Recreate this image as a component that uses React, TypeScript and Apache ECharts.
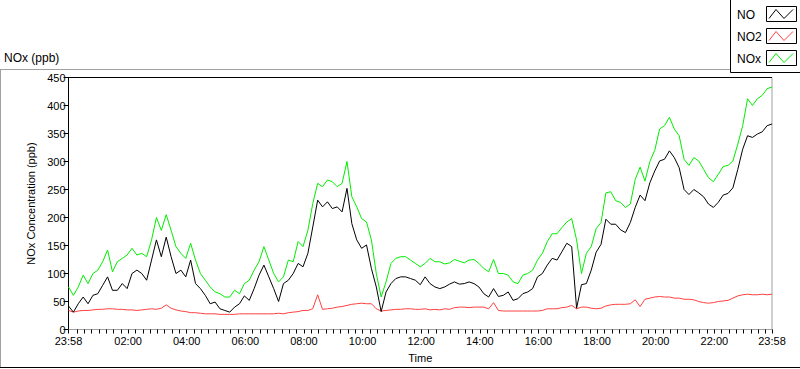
import React, { useEffect, useRef } from "react";
import * as echarts from "echarts";

// time in minutes from 00:00, first sample at 23:58 of the previous day
const START_MIN = -2;
const STEP_MIN = 10;

const NO = [
  42, 31, 46, 58, 46, 61, 64, 79, 94, 70, 70, 82, 73, 100, 106, 100, 88, 124, 160, 130, 165, 130, 100, 106, 94, 124, 82, 73, 61, 46, 49, 37, 34, 31, 40, 46, 60,
  52, 73, 97, 115, 94, 73, 50, 82, 88, 100, 118, 112, 136, 183, 231, 219, 228, 216, 219, 210, 252, 189, 160, 145, 151, 109, 76, 32, 67, 82, 91, 94, 94, 91, 88, 80,
  94, 82, 76, 73, 76, 81, 85, 81, 82, 85, 82, 76, 64, 58, 73, 59, 61, 67, 52, 55, 64, 67, 73, 94, 100, 115, 127, 124, 139, 154, 148, 38, 80, 82, 106, 138,
  152, 197, 188, 188, 178, 173, 191, 218, 240, 230, 262, 283, 301, 304, 319, 307, 289, 250, 241, 250, 244, 237, 224, 218, 227, 240, 243, 253, 286, 322, 346, 343, 349, 353, 364, 367,
];

const NO2 = [
  34, 31, 33, 34, 34, 35, 36, 36, 37, 37, 36, 36, 35, 35, 34, 35, 36, 37, 36, 38, 44, 38, 35, 33, 32, 30, 30, 29, 28, 28, 28, 27, 27, 27, 27, 28, 28,
  28, 28, 28, 28, 28, 28, 29, 28, 30, 31, 32, 34, 34, 37, 62, 36, 37, 38, 40, 41, 43, 45, 46, 47, 46, 46, 37, 33, 34, 35, 36, 36, 37, 37, 36, 36,
  37, 35, 36, 35, 37, 36, 39, 40, 40, 39, 40, 40, 40, 37, 48, 34, 33, 33, 33, 33, 33, 33, 33, 33, 34, 37, 37, 37, 39, 40, 43, 37, 40, 40, 38, 37,
  38, 42, 44, 45, 45, 45, 46, 53, 41, 54, 56, 58, 59, 58, 58, 56, 56, 54, 54, 53, 50, 48, 47, 48, 50, 51, 52, 56, 60, 62, 63, 62, 62, 63, 62, 63,
];

const NOX = [
  76, 61, 76, 97, 82, 100, 106, 121, 142, 103, 121, 127, 133, 145, 133, 136, 130, 160, 200, 177, 205, 177, 148, 136, 127, 154, 124, 100, 88, 76, 67, 64, 58, 58, 70, 64, 82,
  88, 106, 121, 148, 124, 100, 85, 94, 124, 121, 157, 148, 177, 225, 261, 255, 267, 264, 255, 261, 300, 237, 219, 198, 192, 160, 100, 58, 85, 118, 127, 130, 130, 124, 118, 112,
  118, 127, 121, 121, 117, 119, 125, 122, 119, 124, 125, 118, 109, 103, 125, 100, 100, 97, 85, 82, 97, 100, 106, 124, 136, 157, 171, 171, 182, 192, 198, 160, 100, 136, 148, 180,
  191, 244, 246, 230, 227, 218, 224, 268, 290, 265, 300, 320, 358, 364, 379, 358, 346, 304, 293, 307, 301, 286, 271, 264, 277, 291, 293, 301, 331, 364, 412, 400, 412, 418, 430, 433,
];

const SERIES_NAMES = ["NO", "NO2", "NOx"];
const SERIES_COLORS = ["#000000", "#ff4040", "#00ee00"];

const X_MIN = -2;
const X_MAX = 1438;
const X_MAJOR = [-2, 120, 240, 360, 480, 600, 720, 840, 960, 1080, 1200, 1320, 1438];
const X_MINOR_STEP = 15;
const Y_MIN = 0;
const Y_MAX = 450;
const Y_STEP = 50;

const FONT = "Liberation Sans, Arial, sans-serif";

const GRID_LEFT = 68.5;
const GRID_RIGHT = 28;
const GRID_TOP = 77.5;
const GRID_BOTTOM = 39.5;
const CHART_W = 800;
const CHART_H = 369;

function fmtTime(v: number): string {
  if (v < 0) v += 1440;
  const m = Math.round(v) % 1440;
  const h = Math.floor(m / 60);
  const mm = m % 60;
  return String(h).padStart(2, "0") + ":" + String(mm).padStart(2, "0");
}

export default function App() {
  const ref = useRef<HTMLDivElement>(null);
  useEffect(() => {
    if (!ref.current) return;
    const chart = echarts.init(ref.current, undefined, { renderer: "svg" });
    const allTicks: number[] = X_MAJOR.slice();
    for (let m = 0; m < X_MAX; m += X_MINOR_STEP) {
      if (m % 120 !== 0) allTicks.push(m);
    }
    allTicks.sort((a, b) => a - b);
    const majorSet = new Set(X_MAJOR);
    const toPairs = (arr: number[]) => arr.map((v, i) => [START_MIN + i * STEP_MIN, v]);
    const data = [NO, NO2, NOX];

    const legendItems: any[] = [];
    SERIES_NAMES.forEach((name, k) => {
      const y0 = 6.5 + k * 22;
      legendItems.push({
        type: "text",
        x: 737,
        y: y0 + 8,
        style: { text: name, fill: "#000", fontSize: 12, fontFamily: FONT, verticalAlign: "middle" },
      });
      legendItems.push({
        type: "rect",
        shape: { x: 766.5, y: y0, width: 30, height: 15 },
        style: { fill: "#fff", stroke: "#000", lineWidth: 1 },
      });
      legendItems.push({
        type: "polyline",
        shape: {
          points: [
            [769, y0 + 12],
            [776, y0 + 3],
            [784, y0 + 12],
            [793, y0 + 3],
          ],
        },
        style: { stroke: SERIES_COLORS[k], lineWidth: 1, fill: "none" },
      });
    });

    chart.setOption({
      animation: false,
      backgroundColor: "#ffffff",
      grid: {
        left: GRID_LEFT,
        right: GRID_RIGHT,
        top: GRID_TOP,
        bottom: GRID_BOTTOM,
        show: true,
        borderColor: "#a0a0a0",
        borderWidth: 1,
        backgroundColor: "#ffffff",
        containLabel: false,
      },
      xAxis: {
        type: "value",
        min: X_MIN,
        max: X_MAX,
        position: "bottom",
        name: "Time",
        nameLocation: "middle",
        nameGap: 23,
        nameTextStyle: { color: "#000", fontSize: 11, fontFamily: FONT },
        axisLine: { show: true, onZero: false, lineStyle: { color: "#a0a0a0", width: 1 } },
        axisTick: { show: true, customValues: allTicks, length: 4, lineStyle: { color: "#000" } },
        axisLabel: {
          show: true,
          customValues: allTicks,
          hideOverlap: false,
          interval: 0,
          formatter: (v: number) => (majorSet.has(v) ? fmtTime(v) : ""),
          color: "#000",
          fontSize: 11,
          fontFamily: FONT,
          margin: 6,
        },
        splitLine: { show: false },
      },
      yAxis: {
        type: "value",
        min: Y_MIN,
        max: Y_MAX,
        interval: Y_STEP,
        position: "left",
        name: "NOx Concentration (ppb)",
        nameLocation: "middle",
        nameGap: 30,
        nameTextStyle: { color: "#000", fontSize: 11, fontFamily: FONT },
        axisLine: { show: true, onZero: false, lineStyle: { color: "#000", width: 1 } },
        axisTick: { show: true, length: 5, lineStyle: { color: "#000" } },
        axisLabel: { color: "#000", fontSize: 11, fontFamily: FONT, margin: 3 },
        splitLine: { show: false },
      },
      series: data.map((arr, k) => ({
        name: SERIES_NAMES[k],
        type: "line",
        data: toPairs(arr),
        showSymbol: false,
        symbol: "none",
        lineStyle: { color: SERIES_COLORS[k], width: 1 },
        itemStyle: { color: SERIES_COLORS[k] },
        z: k === 0 ? 4 : 3,
      })),
      graphic: [
        {
          type: "line",
          shape: { x1: GRID_LEFT, y1: GRID_TOP, x2: CHART_W - GRID_RIGHT, y2: GRID_TOP },
          style: { stroke: "#000", lineWidth: 1 },
          z: 10,
        },
        { type: "line", shape: { x1: 0, y1: 69.5, x2: 730, y2: 69.5 }, style: { stroke: "#a0a0a0", lineWidth: 1 } },
        { type: "line", shape: { x1: 0.5, y1: 69.5, x2: 0.5, y2: 368 }, style: { stroke: "#a0a0a0", lineWidth: 1 } },
        { type: "line", shape: { x1: 0, y1: 367.5, x2: 800, y2: 367.5 }, style: { stroke: "#000", lineWidth: 1 } },
        {
          type: "text",
          x: 4,
          y: 58,
          style: { text: "NOx (ppb)", fill: "#000", fontSize: 12, fontFamily: FONT, verticalAlign: "middle" },
        },
        {
          type: "rect",
          shape: { x: 730.5, y: -1, width: 70, height: 73.5 },
          style: { fill: "#fff", stroke: "#000", lineWidth: 1 },
        },
        ...legendItems,
      ],
    });
    return () => chart.dispose();
  }, []);
  return <div ref={ref} style={{ position: "fixed", left: 0, top: 0, width: CHART_W, height: CHART_H }} />;
}
